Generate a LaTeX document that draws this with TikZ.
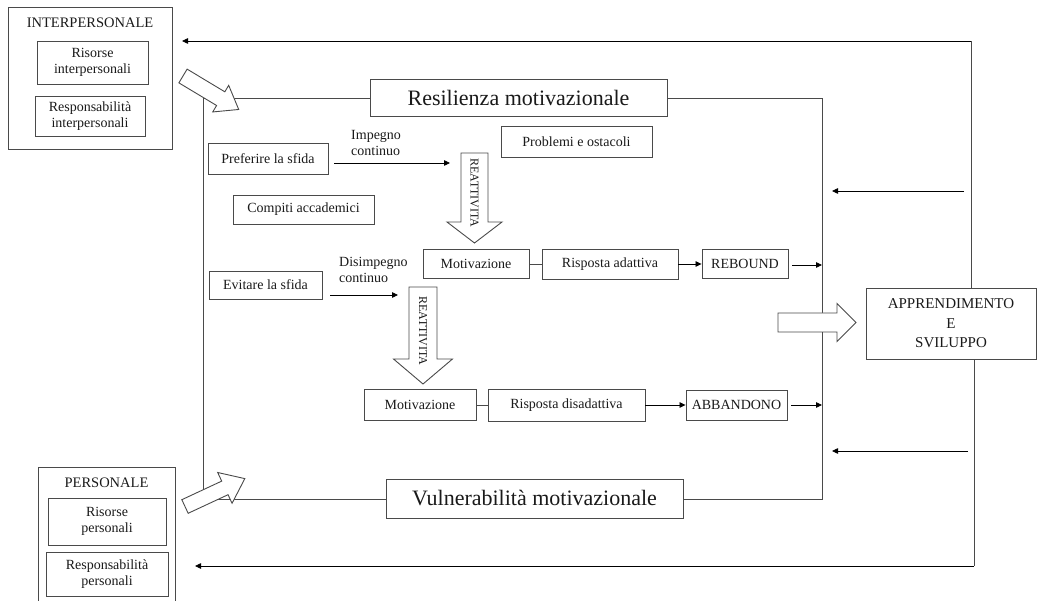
\documentclass[tikz,border=0pt]{standalone}
\usepackage{fontspec}
\setmainfont{Liberation Serif}
\usetikzlibrary{arrows.meta,calc}
\definecolor{ln}{HTML}{4A4A4A}
\definecolor{tx}{HTML}{1A1A1A}
\newcommand{\blockarr}[7]{%
 \begin{scope}[shift={(#1,#2)},rotate=#3]
 \draw[barrow] (0,-#5)--({#4-#7},-#5)--({#4-#7},-#6)--(#4,0)--({#4-#7},#6)--({#4-#7},#5)--(0,#5)--cycle;
 \end{scope}}
\tikzset{
 every node/.style={text=tx},
 box/.style={draw=ln,line width=0.9pt,fill=white,inner sep=1pt,align=center,font=\fontsize{14}{16}\selectfont},
 bigbox/.style={box,font=\fontsize{22}{25}\selectfont},
 capbox/.style={box,font=\fontsize{15}{19.5}\selectfont},
 ttl/.style={inner sep=0pt,font=\fontsize{14.5}{17}\selectfont},
 lbl/.style={inner sep=0pt,align=left,font=\fontsize{14}{16}\selectfont},
 vtxt/.style={inner sep=0pt,rotate=-90,font=\fontsize{12}{14}\selectfont},
 frame/.style={draw=ln,line width=0.9pt},
 conn/.style={draw=black,line width=0.8pt,-{Triangle[length=6pt,width=5.5pt]}},
 barrow/.style={draw=ln,line width=0.9pt,fill=white},
}
\begin{document}
\begin{tikzpicture}[x=1pt,y=-1pt]
\useasboundingbox (0,0) rectangle (1042,601);
% left boxes
\node[draw=ln,line width=0.9pt,minimum width=164pt,minimum height=142pt] (interp) at (90,78) {};
\node[ttl] (interpT) at (90,23) {INTERPERSONALE};
\node[box,minimum width=111pt,minimum height=43pt] (risI) at (92.5,62.5) {Risorse\\interpersonali};
\node[box,minimum width=110pt,minimum height=40pt] (respI) at (90,116) {Responsabilità\\interpersonali};
\node[draw=ln,line width=0.9pt,minimum width=137pt,minimum height=140pt] (pers) at (106.5,537) {};
\node[ttl] (persT) at (106.5,483) {PERSONALE};
\node[box,minimum width=118pt,minimum height=47pt] (risP) at (107,521.5) {Risorse\\personali};
\node[box,minimum width=122pt,minimum height=44pt] (respP) at (107,574) {Responsabilità\\personali};
% frame
\coordinate (fTL) at (203,98);
\coordinate (fTR) at (822,98);
\coordinate (fBR) at (822,499);
\coordinate (fBL) at (203,499);
\draw[frame] (fTL) -- (fTR) -- (fBR) -- (fBL) -- cycle;
\node[bigbox,minimum width=297pt,minimum height=37pt] (resil) at (518.5,97.5) {Resilienza motivazionale};
\node[bigbox,minimum width=297pt,minimum height=39pt] (vuln) at (534.5,498.5) {Vulnerabilità motivazionale};
% outer right loop
\node[capbox,minimum width=170pt,minimum height=71pt] (appr) at (951,323.5) {APPRENDIMENTO\\E\\SVILUPPO};
\coordinate (oTR) at (971,41);
\coordinate (aI) at (182,41);
\coordinate (oBR) at (974,566);
\coordinate (aP) at (195,566);
\draw[frame] (appr.north -| oTR) -- (oTR);
\draw[conn] (oTR) -- (aI);
\draw[frame] (appr.south -| oBR) -- (oBR);
\draw[conn] (oBR) -- (aP);
\coordinate (s1) at (964,191); \coordinate (t1) at (832,191);
\coordinate (s2) at (968,451); \coordinate (t2) at (832,451);
\draw[conn] (s1) -- (t1);
\draw[conn] (s2) -- (t2);
% block arrows
\blockarr{183}{76}{-31}{65}{8}{15.5}{21}
\blockarr{185}{506.5}{25}{66}{7.5}{17}{22}
\blockarr{778}{322.5}{0}{78}{9.5}{19}{19}
\blockarr{474.5}{153}{-90}{90}{13.5}{27.5}{21}
\blockarr{423}{287}{-90}{97}{14}{29.5}{25}
\node[vtxt] (re1) at (474.5,193) {REATTIVITA};
\node[vtxt] (re2) at (423,331) {REATTIVITA};
% inner content
\node[box,minimum width=120pt,minimum height=31pt] (pref) at (268,158.5) {Preferire la sfida};
\node[lbl,anchor=west] (imp) at (351,143) {Impegno\\continuo};
\coordinate (pa) at (450,163);
\draw[conn] (pref.east |- pa) ++(6,0) -- (pa);
\node[box,minimum width=151pt,minimum height=31pt] (probl) at (576.5,141.5) {Problemi e ostacoli};
\node[box,minimum width=141pt,minimum height=29pt] (comp) at (303.5,209.5) {Compiti accademici};
\node[box,minimum width=106pt,minimum height=29pt] (mot1) at (476,264) {Motivazione};
\node[box,minimum width=136pt,minimum height=30pt] (risA) at (610,264) {Risposta adattiva};
\node[box,minimum width=86pt,minimum height=29pt] (reb) at (745,264) {REBOUND};
\draw[frame] (mot1.east) -- (risA.west);
\draw[conn] (risA.east) -- (reb.west);
\draw[conn] ($(reb.east)+(4,1)$) -- ($(reb.east -| fTR)+(0,1)$);
\node[lbl,anchor=west] (dis) at (339,270) {Disimpegno\\continuo};
\node[box,minimum width=113pt,minimum height=28pt] (evit) at (265.5,285) {Evitare la sfida};
\coordinate (pb) at (398,295);
\draw[conn] (evit.east |- pb) ++(8,0) -- (pb);
\node[box,minimum width=112pt,minimum height=31pt] (mot2) at (420,405) {Motivazione};
\node[box,minimum width=157pt,minimum height=32pt] (risD) at (566.5,405) {Risposta disadattiva};
\node[box,minimum width=101pt,minimum height=30pt] (abb) at (736.5,405) {ABBANDONO};
\draw[frame] (mot2.east) -- (risD.west);
\draw[conn] (risD.east) -- (abb.west);
\draw[conn] ($(abb.east)+(4,0)$) -- (abb.east -| fTR);
\end{tikzpicture}
\end{document}
